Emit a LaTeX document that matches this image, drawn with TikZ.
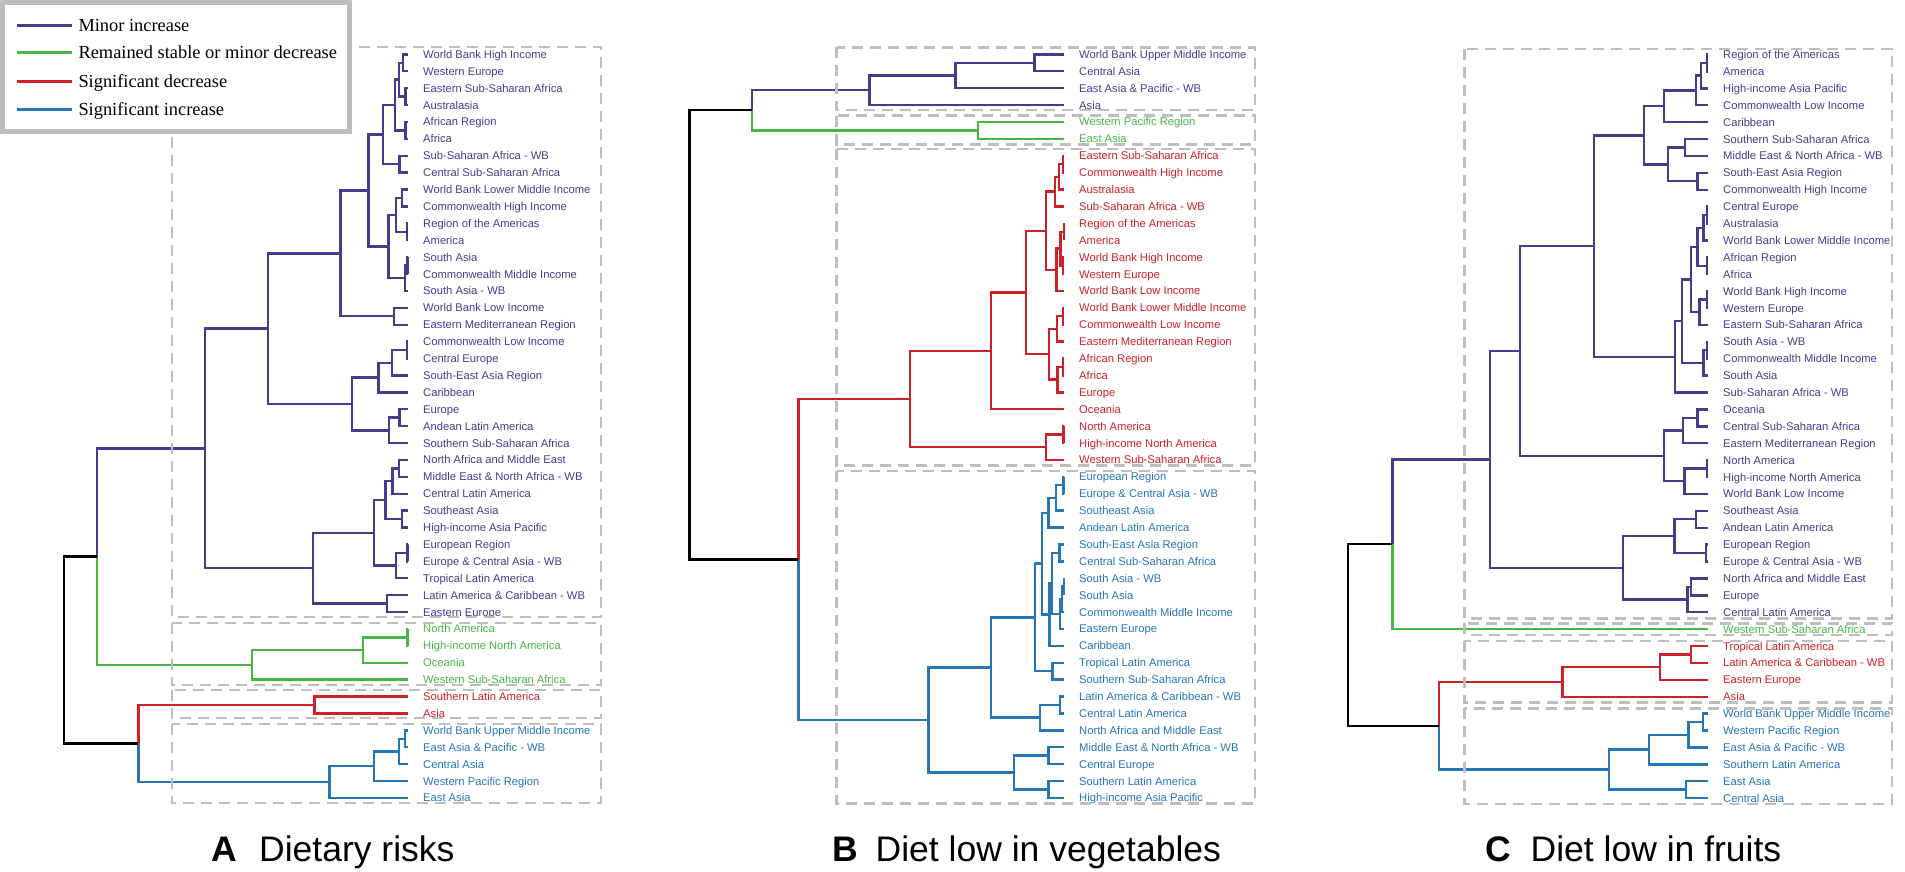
\documentclass[tikz,border=0pt]{standalone}
\usepackage{fontspec}
\setmainfont{Liberation Serif}
\setsansfont{Liberation Sans}
\newfontfamily\lblfont{Liberation Sans}
\usetikzlibrary{calc}
\definecolor{pu}{RGB}{75,58,140}
\definecolor{gr}{RGB}{72,182,68}
\definecolor{rd}{RGB}{206,32,40}
\definecolor{bl}{RGB}{38,118,184}
\definecolor{bx}{RGB}{190,190,190}
\tikzset{
  br/.style={line width=2.4pt, line join=miter},
  bpu/.style={br, draw=pu}, bgr/.style={br, draw=gr}, brd/.style={br, draw=rd},
  bbl/.style={br, draw=bl}, bbk/.style={br, draw=black},
  leaf/.style={anchor=base west, inner sep=0pt, font=\lblfont\fontsize{11.2}{13}\selectfont},
  grp/.style={draw=bx, line width=2.6pt, dash pattern=on 11pt off 7pt},
  ttl/.style={anchor=base west, inner sep=0pt, font=\sffamily\fontsize{35.5}{40}\selectfont},
  ttlb/.style={ttl, font=\sffamily\bfseries\fontsize{35.5}{40}\selectfont},
  legtxt/.style={anchor=base west, inner sep=0pt, font=\rmfamily\fontsize{18.4}{21}\selectfont},
  legln/.style={line width=3pt}
}
\newcommand\dmergeb[6]{%
  \path let \p1=(#2), \p2=(#3) in coordinate (#1) at (#4pt,{0.5*\y1+0.5*\y2});
  \draw[#5] (#2) -| (#1);
  \draw[#6] (#3) -| (#1);
}
\newcommand\dmerge[5]{\dmergeb{#1}{#2}{#3}{#4}{#5}{#5}}
\begin{document}
\begin{tikzpicture}[x=1pt,y=-1pt]
\useasboundingbox (0,0) rectangle (1905,871);
\fill[white] (0,0) rectangle (1905,871);

% ---------- leaves ----------
\foreach \txt/\col [count=\i] in {World Bank High Income/pu, Western Europe/pu, Eastern Sub-Saharan Africa/pu, Australasia/pu, African Region/pu, Africa/pu, Sub-Saharan Africa - WB/pu, Central Sub-Saharan Africa/pu, World Bank Lower Middle Income/pu, Commonwealth High Income/pu, Region of the Americas/pu, America/pu, South Asia/pu, Commonwealth Middle Income/pu, South Asia - WB/pu, World Bank Low Income/pu, Eastern Mediterranean Region/pu, Commonwealth Low Income/pu, Central Europe/pu, South-East Asia Region/pu, Caribbean/pu, Europe/pu, Andean Latin America/pu, Southern Sub-Saharan Africa/pu, North Africa and Middle East/pu, Middle East \& North Africa - WB/pu, Central Latin America/pu, Southeast Asia/pu, High-income Asia Pacific/pu, European Region/pu, Europe \& Central Asia - WB/pu, Tropical Latin America/pu, Latin America \& Caribbean - WB/pu, Eastern Europe/pu, North America/gr, High-income North America/gr, Oceania/gr, Western Sub-Saharan Africa/gr, Southern Latin America/rd, Asia/rd, World Bank Upper Middle Income/bl, East Asia \& Pacific - WB/bl, Central Asia/bl, Western Pacific Region/bl, East Asia/bl}{
  \coordinate (A\i) at (408,{54.3+(\i-1)*16.9});
  \node[leaf, text=\col] (LA\i) at (423,{58.3+(\i-1)*16.9}) {\txt};
}
\foreach \txt/\col [count=\i] in {World Bank Upper Middle Income/pu, Central Asia/pu, East Asia \& Pacific - WB/pu, Asia/pu, Western Pacific Region/gr, East Asia/gr, Eastern Sub-Saharan Africa/rd, Commonwealth High Income/rd, Australasia/rd, Sub-Saharan Africa - WB/rd, Region of the Americas/rd, America/rd, World Bank High Income/rd, Western Europe/rd, World Bank Low Income/rd, World Bank Lower Middle Income/rd, Commonwealth Low Income/rd, Eastern Mediterranean Region/rd, African Region/rd, Africa/rd, Europe/rd, Oceania/rd, North America/rd, High-income North America/rd, Western Sub-Saharan Africa/rd, European Region/bl, Europe \& Central Asia - WB/bl, Southeast Asia/bl, Andean Latin America/bl, South-East Asia Region/bl, Central Sub-Saharan Africa/bl, South Asia - WB/bl, South Asia/bl, Commonwealth Middle Income/bl, Eastern Europe/bl, Caribbean/bl, Tropical Latin America/bl, Southern Sub-Saharan Africa/bl, Latin America \& Caribbean - WB/bl, Central Latin America/bl, North Africa and Middle East/bl, Middle East \& North Africa - WB/bl, Central Europe/bl, Southern Latin America/bl, High-income Asia Pacific/bl}{
  \coordinate (B\i) at (1064,{54.3+(\i-1)*16.9});
  \node[leaf, text=\col] (LB\i) at (1079,{58.3+(\i-1)*16.9}) {\txt};
}
\foreach \txt/\col [count=\i] in {Region of the Americas/pu, America/pu, High-income Asia Pacific/pu, Commonwealth Low Income/pu, Caribbean/pu, Southern Sub-Saharan Africa/pu, Middle East \& North Africa - WB/pu, South-East Asia Region/pu, Commonwealth High Income/pu, Central Europe/pu, Australasia/pu, World Bank Lower Middle Income/pu, African Region/pu, Africa/pu, World Bank High Income/pu, Western Europe/pu, Eastern Sub-Saharan Africa/pu, South Asia - WB/pu, Commonwealth Middle Income/pu, South Asia/pu, Sub-Saharan Africa - WB/pu, Oceania/pu, Central Sub-Saharan Africa/pu, Eastern Mediterranean Region/pu, North America/pu, High-income North America/pu, World Bank Low Income/pu, Southeast Asia/pu, Andean Latin America/pu, European Region/pu, Europe \& Central Asia - WB/pu, North Africa and Middle East/pu, Europe/pu, Central Latin America/pu, Western Sub-Saharan Africa/gr, Tropical Latin America/rd, Latin America \& Caribbean - WB/rd, Eastern Europe/rd, Asia/rd, World Bank Upper Middle Income/bl, Western Pacific Region/bl, East Asia \& Pacific - WB/bl, Southern Latin America/bl, East Asia/bl, Central Asia/bl}{
  \coordinate (C\i) at (1707.7,{54.5+(\i-1)*16.9});
  \node[leaf, text=\col] (LC\i) at (1723,{58.5+(\i-1)*16.9}) {\txt};
}

% ---------- panel A tree ----------
\dmerge{a12}{A1}{A2}{403}{bpu}
\dmerge{a34}{A3}{A4}{405.5}{bpu}
\dmerge{a1234}{a12}{a34}{399}{bpu}
\dmerge{a56}{A5}{A6}{405.5}{bpu}
\dmerge{a1t6}{a1234}{a56}{395}{bpu}
\dmerge{a78}{A7}{A8}{399.3}{bpu}
\dmerge{a1t8}{a1t6}{a78}{382.7}{bpu}
\dmerge{a9t10}{A9}{A10}{402}{bpu}
\dmerge{a11t12}{A11}{A12}{407}{bpu}
\dmerge{a9t12}{a9t10}{a11t12}{396}{bpu}
\dmerge{a13t14}{A13}{A14}{407.3}{bpu}
\dmerge{a13t15}{a13t14}{A15}{405}{bpu}
\dmerge{a9t15}{a9t12}{a13t15}{388.3}{bpu}
\dmerge{a1t15}{a1t8}{a9t15}{368.3}{bpu}
\dmerge{a16t17}{A16}{A17}{394}{bpu}
\dmerge{a1t17}{a1t15}{a16t17}{340.3}{bpu}
\dmerge{a18t19}{A18}{A19}{406.7}{bpu}
\dmerge{a18t20}{a18t19}{A20}{391.7}{bpu}
\dmerge{a18t21}{a18t20}{A21}{378.3}{bpu}
\dmerge{a22t23}{A22}{A23}{399.3}{bpu}
\dmerge{a22t24}{a22t23}{A24}{389}{bpu}
\dmerge{a18t24}{a18t21}{a22t24}{352}{bpu}
\dmerge{a1t24}{a1t17}{a18t24}{267.7}{bpu}
\dmerge{a25t26}{A25}{A26}{398.7}{bpu}
\dmerge{a25t27}{a25t26}{A27}{392.3}{bpu}
\dmerge{a28t29}{A28}{A29}{401.7}{bpu}
\dmerge{a25t29}{a25t27}{a28t29}{385.3}{bpu}
\dmerge{a30t31}{A30}{A31}{407.3}{bpu}
\dmerge{a30t32}{a30t31}{A32}{395.7}{bpu}
\dmerge{a25t32}{a25t29}{a30t32}{373.7}{bpu}
\dmerge{a33t34}{A33}{A34}{386.7}{bpu}
\dmerge{a25t34}{a25t32}{a33t34}{312.7}{bpu}
\dmerge{a1t34}{a1t24}{a25t34}{205}{bpu}
\dmerge{a35t36}{A35}{A36}{407.3}{bgr}
\dmerge{a35t37}{a35t36}{A37}{362.7}{bgr}
\dmerge{a35t38}{a35t37}{A38}{251.7}{bgr}
\dmergeb{aPG}{a1t34}{a35t38}{96.7}{bpu}{bgr}
\dmerge{a39t40}{A39}{A40}{314.3}{brd}
\dmerge{a41t42}{A41}{A42}{405}{bbl}
\dmerge{a41t43}{a41t42}{A43}{399}{bbl}
\dmerge{a41t44}{a41t43}{A44}{374}{bbl}
\dmerge{a41t45}{a41t44}{A45}{329.3}{bbl}
\dmergeb{aRB}{a39t40}{a41t45}{138.3}{brd}{bbl}
\dmerge{aRoot}{aPG}{aRB}{64}{bbk}

% ---------- panel B tree ----------
\dmerge{b1t2}{B1}{B2}{1034.3}{bpu}
\dmerge{b1t3}{b1t2}{B3}{955.3}{bpu}
\dmerge{b1t4}{b1t3}{B4}{869.3}{bpu}
\dmerge{b5t6}{B5}{B6}{977.7}{bgr}
\dmergeb{bPG}{b1t4}{b5t6}{751.7}{bpu}{bgr}
\dmerge{b7t8}{B7}{B8}{1063}{brd}
\dmerge{b7t9}{b7t8}{B9}{1059}{brd}
\dmerge{b7t10}{b7t9}{B10}{1055}{brd}
\dmerge{b11t12}{B11}{B12}{1064}{brd}
\dmerge{b13t14}{B13}{B14}{1063}{brd}
\dmerge{b11t14}{b11t12}{b13t14}{1060.5}{brd}
\dmerge{b11t15}{b11t14}{B15}{1056.5}{brd}
\dmerge{b7t15}{b7t10}{b11t15}{1046}{brd}
\dmerge{b16t17}{B16}{B17}{1063}{brd}
\dmerge{b16t18}{b16t17}{B18}{1057}{brd}
\dmerge{b19t20}{B19}{B20}{1063}{brd}
\dmerge{b19t21}{b19t20}{B21}{1057.3}{brd}
\dmerge{b16t21}{b16t18}{b19t21}{1049}{brd}
\dmerge{b7t21}{b7t15}{b16t21}{1025.7}{brd}
\dmerge{b7t22}{b7t21}{B22}{990.7}{brd}
\dmerge{b23t24}{B23}{B24}{1063.3}{brd}
\dmerge{b23t25}{b23t24}{B25}{1045.7}{brd}
\dmerge{b7t25}{b7t22}{b23t25}{910}{brd}
\dmerge{b26t27}{B26}{B27}{1063.3}{bbl}
\dmerge{b26t28}{b26t27}{B28}{1056}{bbl}
\dmerge{b26t29}{b26t28}{B29}{1048.3}{bbl}
\dmerge{b30t31}{B30}{B31}{1059.3}{bbl}
\dmerge{b32t33}{B32}{B33}{1064}{bbl}
\dmerge{b32t34}{b32t33}{B34}{1062}{bbl}
\dmerge{b32t35}{b32t34}{B35}{1060}{bbl}
\dmerge{b30t35}{b30t31}{b32t35}{1051.7}{bbl}
\dmerge{b30t36}{b30t35}{B36}{1049.3}{bbl}
\dmerge{b26t36}{b26t29}{b30t36}{1041.7}{bbl}
\dmerge{b37t38}{B37}{B38}{1052.3}{bbl}
\dmerge{b26t38}{b26t36}{b37t38}{1035}{bbl}
\dmerge{b39t40}{B39}{B40}{1060}{bbl}
\dmerge{b39t41}{b39t40}{B41}{1040}{bbl}
\dmerge{b26t41}{b26t38}{b39t41}{991}{bbl}
\dmerge{b42t43}{B42}{B43}{1048.3}{bbl}
\dmerge{b44t45}{B44}{B45}{1048.3}{bbl}
\dmerge{b42t45}{b42t43}{b44t45}{1014}{bbl}
\dmerge{b26t45}{b26t41}{b42t45}{928.3}{bbl}
\dmergeb{bRB}{b7t25}{b26t45}{798.3}{brd}{bbl}
\dmerge{bRoot}{bPG}{bRB}{689.3}{bbk}

% ---------- panel C tree ----------
\dmerge{c1t2}{C1}{C2}{1707}{bpu}
\dmerge{c1t3}{c1t2}{C3}{1700.7}{bpu}
\dmerge{c1t4}{c1t3}{C4}{1696}{bpu}
\dmerge{c1t5}{c1t4}{C5}{1664}{bpu}
\dmerge{c6t7}{C6}{C7}{1685}{bpu}
\dmerge{c8t9}{C8}{C9}{1697.3}{bpu}
\dmerge{c6t9}{c6t7}{c8t9}{1667.7}{bpu}
\dmerge{c1t9}{c1t5}{c6t9}{1644}{bpu}
\dmerge{c10t11}{C10}{C11}{1706.7}{bpu}
\dmerge{c10t12}{c10t11}{C12}{1703.3}{bpu}
\dmerge{c13t14}{C13}{C14}{1706.7}{bpu}
\dmerge{c10t14}{c10t12}{c13t14}{1697.3}{bpu}
\dmerge{c15t16}{C15}{C16}{1706.7}{bpu}
\dmerge{c15t17}{c15t16}{C17}{1699.3}{bpu}
\dmerge{c10t17}{c10t14}{c15t17}{1690.7}{bpu}
\dmerge{c18t19}{C18}{C19}{1707}{bpu}
\dmerge{c18t20}{c18t19}{C20}{1703.3}{bpu}
\dmerge{c10t20}{c10t17}{c18t20}{1681.7}{bpu}
\dmerge{c10t21}{c10t20}{C21}{1675}{bpu}
\dmerge{c1t21}{c1t9}{c10t21}{1594}{bpu}
\dmerge{c22t23}{C22}{C23}{1697.3}{bpu}
\dmerge{c22t24}{c22t23}{C24}{1682.7}{bpu}
\dmerge{c25t26}{C25}{C26}{1706.7}{bpu}
\dmerge{c25t27}{c25t26}{C27}{1684.3}{bpu}
\dmerge{c22t27}{c22t24}{c25t27}{1664}{bpu}
\dmerge{c1t27}{c1t21}{c22t27}{1520}{bpu}
\dmerge{c28t29}{C28}{C29}{1696}{bpu}
\dmerge{c30t31}{C30}{C31}{1706}{bpu}
\dmerge{c28t31}{c28t29}{c30t31}{1674.3}{bpu}
\dmerge{c32t33}{C32}{C33}{1691}{bpu}
\dmerge{c32t34}{c32t33}{C34}{1687.3}{bpu}
\dmerge{c28t34}{c28t31}{c32t34}{1622.7}{bpu}
\dmerge{c1t34}{c1t27}{c28t34}{1490}{bpu}
\dmergeb{cPG}{c1t34}{C35}{1392.3}{bpu}{bgr}
\dmerge{c36t37}{C36}{C37}{1690.7}{brd}
\dmerge{c36t38}{c36t37}{C38}{1660}{brd}
\dmerge{c36t39}{c36t38}{C39}{1562.3}{brd}
\dmerge{c40t41}{C40}{C41}{1702.7}{bbl}
\dmerge{c40t42}{c40t41}{C42}{1688.3}{bbl}
\dmerge{c40t43}{c40t42}{C43}{1649}{bbl}
\dmerge{c44t45}{C44}{C45}{1686}{bbl}
\dmerge{c40t45}{c40t43}{c44t45}{1608.7}{bbl}
\dmergeb{cRB}{c36t39}{c40t45}{1439}{brd}{bbl}
\dmerge{cRoot}{cPG}{cRB}{1347.8}{bbk}

% ---------- group boxes ----------
\draw[grp] (172,47) rectangle (601,617);
\draw[grp] (172,623) rectangle (601,685);
\draw[grp] (172,690) rectangle (601,718);
\draw[grp] (172,724) rectangle (601,803);
\draw[grp] (836.7,47.3) rectangle (1255,110);
\draw[grp] (836.7,115.7) rectangle (1255,144.3);
\draw[grp] (836.7,149) rectangle (1255,465.5);
\draw[grp] (836.7,471) rectangle (1255,803.3);
\draw[grp] (1464.3,49) rectangle (1892,618.3);
\draw[grp] (1464.3,623.3) rectangle (1892,635);
\draw[grp] (1464.3,641) rectangle (1892,702.7);
\draw[grp] (1464.3,708.3) rectangle (1892,804);

% ---------- titles ----------
\node[ttlb] (tA) at (211,861) {A};
\node[ttl] (tAt) at (259,861) {Dietary risks};
\node[ttlb] (tB) at (832.5,861) {B};
\node[ttl] (tBt) at (875.5,861) {Diet low in vegetables};
\node[ttlb] (tC) at (1485.5,861) {C};
\node[ttl] (tCt) at (1530.5,861) {Diet low in fruits};

% ---------- legend ----------
\draw[draw=bx, fill=white, line width=5pt] (2.5,2.5) rectangle (349.5,131.5);
\coordinate (lg1a) at (17,25);   \coordinate (lg1b) at (72,25);
\coordinate (lg2a) at (17,52.3); \coordinate (lg2b) at (72,52.3);
\coordinate (lg3a) at (17,81);   \coordinate (lg3b) at (72,81);
\coordinate (lg4a) at (17,109);  \coordinate (lg4b) at (72,109);
\draw[legln, pu] (lg1a) -- (lg1b);
\draw[legln, gr] (lg2a) -- (lg2b);
\draw[legln, rd] (lg3a) -- (lg3b);
\draw[legln, bl] (lg4a) -- (lg4b);
\node[legtxt] (lt1) at (78.3,31.1) {Minor increase};
\node[legtxt] (lt2) at (78.3,58.4) {Remained stable or minor decrease};
\node[legtxt] (lt3) at (78.3,87.1) {Significant decrease};
\node[legtxt] (lt4) at (78.3,115.1) {Significant increase};
\end{tikzpicture}
\end{document}
